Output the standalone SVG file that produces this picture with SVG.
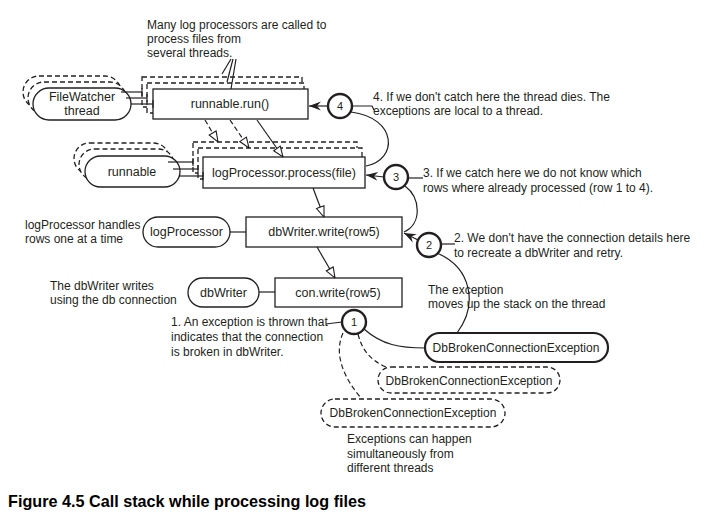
<svg xmlns="http://www.w3.org/2000/svg" width="721" height="523" viewBox="0 0 721 523">
<defs>
<style>
text{font-family:"Liberation Sans",Arial,sans-serif;font-size:12px;fill:#231f20}
.lbl{text-anchor:middle;font-size:12.5px}
.num{text-anchor:middle;font-size:11px}
.box{fill:#fff;stroke:#231f20;stroke-width:1.3}
.dbox{fill:#fff;stroke:#231f20;stroke-width:1.3;stroke-dasharray:5,3}
.circ{fill:#fff;stroke:#231f20;stroke-width:2.4}
.ln{fill:none;stroke:#231f20;stroke-width:1.2}
.dln{fill:none;stroke:#231f20;stroke-width:1.2;stroke-dasharray:5,3}
.cap{font-size:16.2px;font-weight:bold;fill:#000}
</style>
<marker id="tri" viewBox="0 0 12 10" refX="11.5" refY="5" markerWidth="12" markerHeight="10" markerUnits="userSpaceOnUse" orient="auto">
<path d="M1,1 L11.5,5 L1,9 Z" fill="#fff" stroke="#231f20" stroke-width="1.1" stroke-dasharray="none"/>
</marker>
<marker id="stl" viewBox="0 0 12 10" refX="12" refY="5" markerWidth="12" markerHeight="10" markerUnits="userSpaceOnUse" orient="auto">
<path d="M0,0.5 L12,5 L0,9.5 L4,5 Z" fill="#231f20"/>
</marker>
<marker id="tick" viewBox="0 0 2 8" refX="1" refY="4" markerWidth="2" markerHeight="8" markerUnits="userSpaceOnUse" orient="auto">
<path d="M1,0 L1,8" stroke="#231f20" stroke-width="1.2"/>
</marker>
</defs>
<rect width="721" height="523" fill="#fff"/>

<g id="note-top">
<text x="147" y="29">Many log processors are called to</text>
<text x="147" y="43">process files from</text>
<text x="147" y="57">several threads.</text>
</g>

<g id="filewatcher">
<rect class="dbox" x="23" y="76" width="98" height="32" rx="16"/>
<rect class="dbox" x="28" y="82" width="98" height="32" rx="16"/>
<rect class="box" x="33" y="88" width="98" height="32" rx="16"/>
<text class="lbl" x="82" y="101">FileWatcher</text>
<text class="lbl" x="82" y="115">thread</text>
</g>

<g id="run">
<rect class="dbox" x="142" y="77" width="160" height="30"/>
<rect class="dbox" x="147" y="83" width="157" height="30"/>
<rect class="box" x="153" y="89" width="155" height="30"/>
<text class="lbl" x="230" y="108">runnable.run()</text>
</g>

<g id="runnable">
<rect class="dbox" x="74" y="143" width="95" height="31" rx="15.5"/>
<rect class="dbox" x="79" y="149" width="95" height="31" rx="15.5"/>
<rect class="box" x="85" y="156" width="95" height="31" rx="15.5"/>
<text class="lbl" x="132" y="176">runnable</text>
</g>

<g id="process">
<rect class="dbox" x="193" y="142" width="164" height="31"/>
<rect class="dbox" x="198" y="148" width="164" height="31"/>
<rect class="box" x="203" y="157" width="162" height="31"/>
<text class="lbl" x="284" y="177">logProcessor.process(file)</text>
</g>

<g id="note-logprocessor">
<text x="25" y="229">logProcessor handles</text>
<text x="25" y="243">rows one at a time</text>
</g>

<g id="logprocessor">
<rect class="box" x="143" y="217" width="87" height="30" rx="15"/>
<text class="lbl" x="186.5" y="236">logProcessor</text>
</g>

<g id="dbwrite">
<rect class="box" x="246" y="217" width="156" height="30"/>
<text class="lbl" x="324" y="236">dbWriter.write(row5)</text>
</g>

<g id="note-dbwriter">
<text x="50" y="290">The dbWriter writes</text>
<text x="50" y="304">using the db connection</text>
</g>

<g id="dbwriter">
<rect class="box" x="188" y="278" width="71" height="29" rx="14.5"/>
<text class="lbl" x="223.5" y="297">dbWriter</text>
</g>

<g id="conwrite">
<rect class="box" x="275" y="278" width="127" height="29"/>
<text class="lbl" x="338" y="297">con.write(row5)</text>
</g>

<g id="exc-main">
<rect x="425" y="333" width="183" height="29" rx="14.5" fill="#fff" stroke="#231f20" stroke-width="2.2"/>
<text x="516" y="352" style="text-anchor:middle">DbBrokenConnectionException</text>
</g>

<g id="exc-2">
<rect class="dbox" x="378" y="367" width="182" height="26" rx="13"/>
<text x="469" y="385" style="text-anchor:middle">DbBrokenConnectionException</text>
</g>

<g id="exc-3">
<rect class="dbox" x="321" y="399" width="184" height="28" rx="14"/>
<text x="413" y="417" style="text-anchor:middle">DbBrokenConnectionException</text>
</g>

<g id="connectors">
<path class="ln" d="M231,59 L222,74"/>
<path class="ln" d="M233,59 L227,82"/>
<path class="ln" d="M236,59 L231,89"/>

<path class="ln" d="M121,92 L142,92" marker-end="url(#tick)"/>
<path class="ln" d="M126,98 L147,98" marker-end="url(#tick)"/>
<path class="ln" d="M131,104 L153,104" marker-end="url(#tick)"/>

<path class="ln" d="M168,162 L193,162" marker-end="url(#tick)"/>
<path class="ln" d="M173,169 L198,169" marker-end="url(#tick)"/>
<path class="ln" d="M179,176 L203,176" marker-end="url(#tick)"/>

<path class="ln" d="M230,232 L246,232"/>
<path class="ln" d="M259,292 L275,292"/>

<path class="dln" d="M205,120 L218,142" marker-end="url(#tri)"/>
<path class="dln" d="M230,120 L249,148" marker-end="url(#tri)"/>
<path class="ln" d="M257,120 L283,157" marker-end="url(#tri)"/>
<path class="ln" d="M313,188 L324,217" marker-end="url(#tri)"/>
<path class="ln" d="M317,247 L335,278" marker-end="url(#tri)"/>

<path class="ln" d="M328,106 L309,106" marker-end="url(#stl)"/>
<path class="ln" d="M384,177 L366,175" marker-end="url(#stl)"/>
<path class="ln" d="M418,240 L404,233" marker-end="url(#stl)"/>

<path class="ln" d="M366,166 C398,160 398,118 351,112"/>
<path class="ln" d="M404,232 C422,224 421,198 405,186"/>
<path class="ln" d="M457,333 C478,305 472,268 437,253"/>
<path class="ln" d="M364,329 C382,345 400,348 425,348"/>
<path class="dln" d="M358,334 C362,350 370,360 386,367"/>
<path class="dln" d="M343,333 C333,355 345,380 362,399"/>

<path class="ln" d="M352,106 L372,106 L374,110"/>
<path class="ln" d="M408,178 L423,178"/>
<path class="ln" d="M441,244 L455,244"/>
<path class="ln" d="M326,324 L342,322"/>
</g>

<g id="c4"><circle class="circ" cx="340" cy="106" r="12"/><text class="num" x="340" y="110">4</text></g>
<g id="c3"><circle class="circ" cx="396" cy="177" r="12"/><text class="num" x="396" y="181">3</text></g>
<g id="c2"><circle class="circ" cx="429" cy="245" r="12"/><text class="num" x="429" y="249">2</text></g>
<g id="c1"><circle class="circ" cx="354" cy="322" r="12"/><text class="num" x="354" y="326">1</text></g>

<g id="note-4">
<text x="373" y="101">4. If we don't catch here the thread dies. The</text>
<text x="373" y="115">exceptions are local to a thread.</text>
</g>
<g id="note-3">
<text x="423" y="177">3. If we catch here we do not know which</text>
<text x="423" y="192">rows where already processed (row 1 to 4).</text>
</g>
<g id="note-2">
<text x="454" y="242">2. We don't have the connection details here</text>
<text x="454" y="257">to recreate a dbWriter and retry.</text>
</g>
<g id="note-move">
<text x="428" y="294">The exception</text>
<text x="428" y="308">moves up the stack on the thread</text>
</g>
<g id="note-1">
<text x="171" y="326">1. An exception is thrown that</text>
<text x="171" y="341">indicates that the connection</text>
<text x="171" y="356">is broken in dbWriter.</text>
</g>
<g id="note-sim">
<text x="347" y="443">Exceptions can happen</text>
<text x="347" y="458">simultaneously from</text>
<text x="347" y="472">different threads</text>
</g>
<text class="cap" x="8" y="507">Figure 4.5 Call stack while processing log files</text>
</svg>
